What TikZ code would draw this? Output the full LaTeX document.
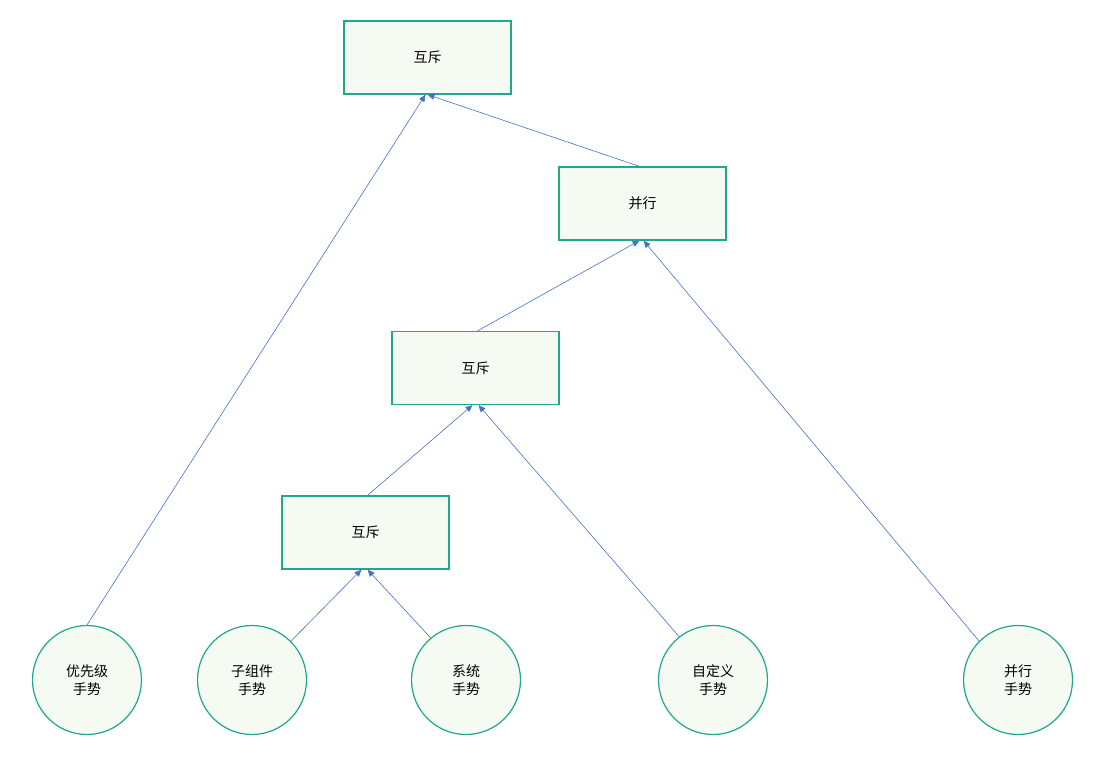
\documentclass[tikz,border=0pt]{standalone}
\usepackage{fontspec}
\setmainfont{Noto Sans CJK SC}
\usetikzlibrary{calc,arrows.meta}
\definecolor{bord}{HTML}{1FA88C}
\definecolor{fil}{HTML}{F5FAF3}
\definecolor{arr}{HTML}{4472C4}
\begin{document}
\begin{tikzpicture}[x=1pt,y=-1pt,
  box/.style={draw=bord,fill=fil,line width=1.2pt,minimum width=167pt,minimum height=73pt,font=\fontsize{14}{16}\selectfont},
  circ/.style={draw=bord,fill=fil,line width=1.2pt,circle,minimum size=109pt,align=center,font=\fontsize{14}{18}\selectfont},
  con/.style={draw=arr,line width=0.6pt,-{Triangle[length=7pt,width=6pt]}}]
\useasboundingbox (0,0) rectangle (1107,765);
\node[box] (b1) at (427.5,57.5) {互斥};
\node[box] (b2) at (642.5,203.5) {并行};
\node[box] (b3) at (475.5,368) {互斥};
\node[box] (b4) at (365.5,532.5) {互斥};
\node[circ] (c1) at (87,680) {优先级\\手势};
\node[circ] (c2) at (252,680) {子组件\\手势};
\node[circ] (c3) at (466,680) {系统\\手势};
\node[circ] (c4) at (713,680) {自定义\\手势};
\node[circ] (c5) at (1018,680) {并行\\手势};
\draw[con] ($(b2.north)+(-3,0)$) -- (b1.south);
\draw[con] (c1.north) -- ($(b1.south)+(-2,0)$);
\draw[con] ($(b3.north)+(2,0)$) -- ($(b2.south)+(-3,0)$);
\draw[con] (c5.135) -- ($(b2.south)+(1,0)$);
\draw[con] ($(b4.north)+(2,0)$) -- ($(b3.south)+(-3,0)$);
\draw[con] (c4.128) -- ($(b3.south)+(3,0)$);
\draw[con] (c2.45) -- ($(b4.south)+(-4,0)$);
\draw[con] (c3.130) -- ($(b4.south)+(2,0)$);
\end{tikzpicture}
\end{document}
